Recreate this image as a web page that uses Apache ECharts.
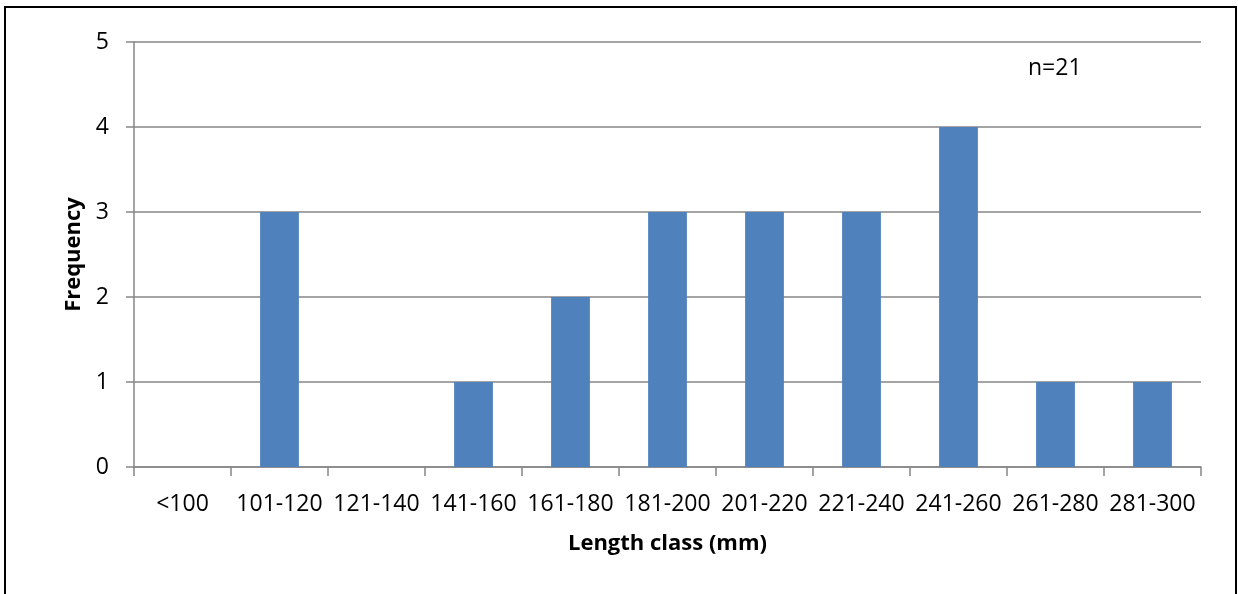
<!DOCTYPE html>
<html>
<head>
<meta charset="utf-8">
<script src="https://cdn.jsdelivr.net/npm/echarts@6/dist/echarts.min.js"></script>
<style>
  html, body { margin: 0; padding: 0; background: #fff; }
  #chart { width: 1238px; height: 594px; }
</style>
</head>
<body>
<div id="chart"></div>
<script>
// Length classes of measured specimens (mm) and how many fell in each
const lengthClasses = ['<100', '101-120', '121-140', '141-160', '161-180', '181-200',
                       '201-220', '221-240', '241-260', '261-280', '281-300'];
const frequencies = [0, 3, 0, 1, 2, 3, 3, 3, 4, 1, 1];
const sampleNote = 'n=21';

const FONT = '"Open Sans", "Noto Sans", sans-serif';
const GRID_GRAY = '#868686';

const chart = echarts.init(document.getElementById('chart'), null, { renderer: 'canvas' });

chart.setOption({
  animation: false,
  backgroundColor: '#ffffff',
  grid: { left: 134, right: 37, top: 42, bottom: 127, containLabel: false },
  graphic: [
    {
      type: 'rect',
      shape: { x: 5, y: 7, width: 1231, height: 600 },
      style: { fill: 'none', stroke: '#000000', lineWidth: 2 },
      z: 0
    },
    {
      type: 'text',
      left: 1028,
      top: 57,
      style: { text: sampleNote, font: '23px ' + FONT, fill: '#000000' }
    }
  ],
  xAxis: {
    type: 'category',
    data: lengthClasses,
    name: 'Length class (mm)',
    nameLocation: 'middle',
    nameGap: 66,
    nameTextStyle: { fontFamily: FONT, fontWeight: 'bold', fontSize: 22, color: '#000' },
    axisLine: { show: true, lineStyle: { color: GRID_GRAY, width: 1.5 } },
    axisTick: { show: true, length: 9, lineStyle: { color: GRID_GRAY, width: 1.5 } },
    axisLabel: { fontFamily: FONT, fontSize: 23, color: '#000', margin: 26, interval: 0 },
    splitLine: { show: false }
  },
  yAxis: {
    type: 'value',
    min: 0,
    max: 5,
    interval: 1,
    name: 'Frequency',
    nameLocation: 'middle',
    nameGap: 46,
    nameRotate: 90,
    nameTextStyle: { fontFamily: FONT, fontWeight: 'bold', fontSize: 22, color: '#000' },
    axisLine: { show: true, lineStyle: { color: GRID_GRAY, width: 1.5 } },
    axisTick: { show: true, length: 8, lineStyle: { color: GRID_GRAY, width: 1.5 } },
    axisLabel: { fontFamily: FONT, fontSize: 23, color: '#000', margin: 25 },
    splitLine: { show: true, lineStyle: { color: GRID_GRAY, width: 1.5 } }
  },
  series: [
    {
      type: 'bar',
      data: frequencies,
      barCategoryGap: '60%',
      itemStyle: { color: '#4F81BD' }
    }
  ]
});
</script>
</body>
</html>
